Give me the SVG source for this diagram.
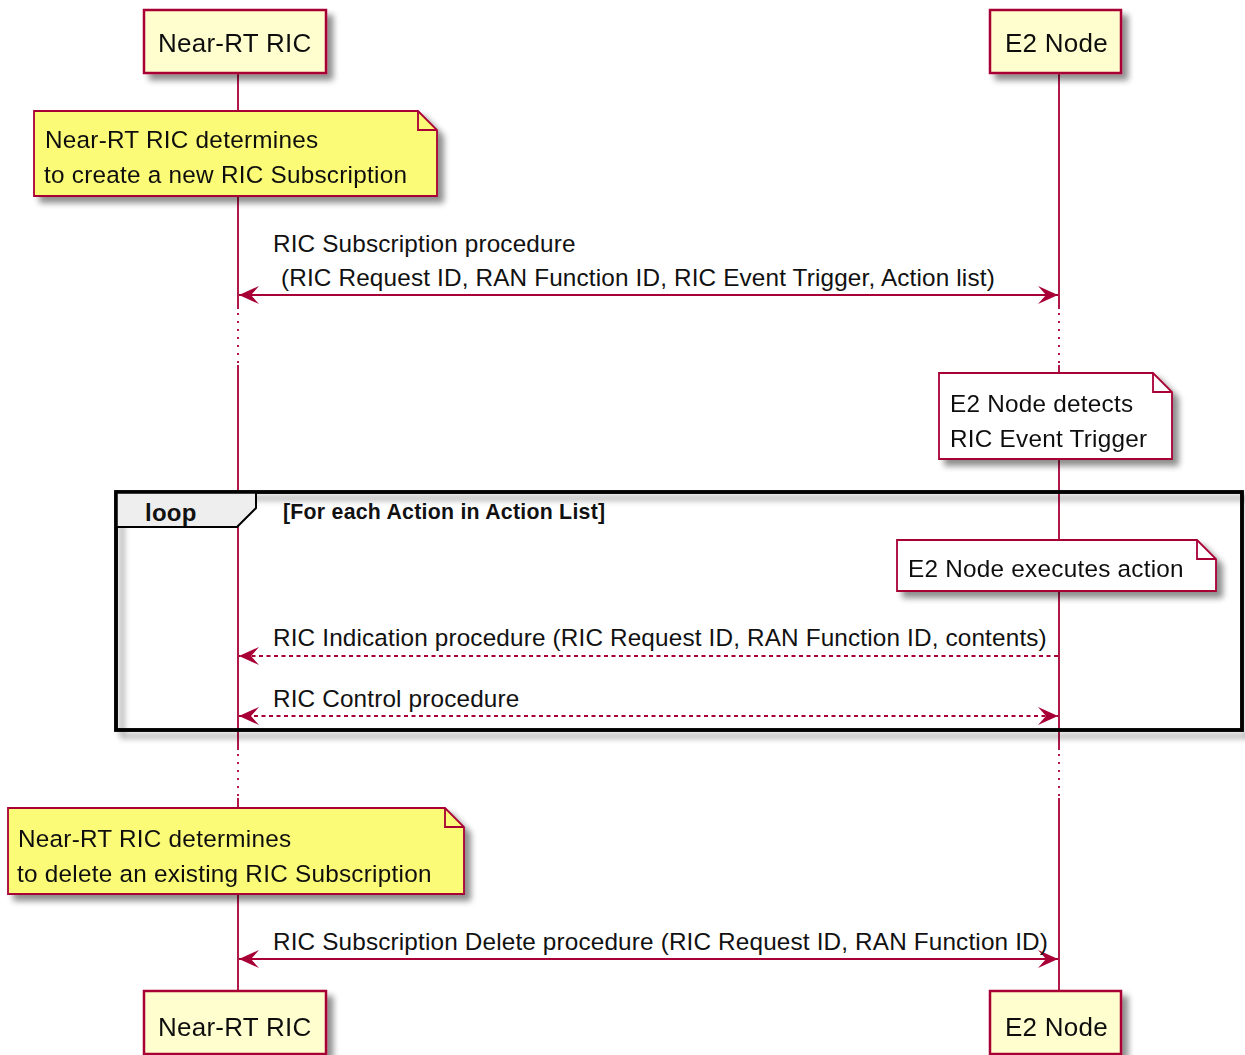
<svg xmlns="http://www.w3.org/2000/svg" width="1245" height="1055" viewBox="0 0 1245 1055">
  <defs>
    <filter id="shadow" x="-10%" y="-20%" width="130%" height="150%">
      <feGaussianBlur in="SourceAlpha" stdDeviation="3"/>
      <feOffset dx="6" dy="6" result="blur"/>
      <feComponentTransfer><feFuncA type="linear" slope="0.45"/></feComponentTransfer>
      <feMerge><feMergeNode/><feMergeNode in="SourceGraphic"/></feMerge>
    </filter>
    <marker id="head" viewBox="0 0 22 20" refX="21" refY="10" markerWidth="22" markerHeight="20" markerUnits="userSpaceOnUse" orient="auto-start-reverse">
      <path d="M21,10 L1,1 L9,10 L1,19 Z" fill="#A80036"/>
    </marker>
    <style>
      text { font-family: "Liberation Sans", Arial, sans-serif; fill: #111; letter-spacing: 0.25px; }
      .part { fill: #FEFECE; stroke: #A80036; stroke-width: 2.5; }
      .ptext { font-size: 26px; }
      .note { fill: #FBFB77; stroke: #A80036; stroke-width: 1.8; }
      .note-w { fill: #FFFFFF; stroke: #A80036; stroke-width: 1.8; }
      .fold { fill: none; stroke: #A80036; stroke-width: 1.8; }
      .ntext { font-size: 24.3px; }
      .life { stroke: #A80036; stroke-width: 1.8; fill: none; }
      .dots { stroke: #A80036; stroke-width: 1.8; stroke-dasharray: 2,6; fill: none; }
      .msg { stroke: #A80036; stroke-width: 1.8; fill: none; }
      .dashed { stroke-dasharray: 4,3.5; }
      .mtext { font-size: 24.3px; letter-spacing: 0.16px; }
    </style>
  </defs>
  <rect width="1245" height="1055" fill="#FFFFFF"/>

  <!-- lifelines -->
  <g id="lifelines">
    <path class="life" d="M238,73 V309 M238,365 V750 M238,798 V991"/>
    <path class="dots" d="M238,313 V363 M238,754 V797"/>
    <path class="life" d="M1059,73 V309 M1059,365 V750 M1059,798 V991"/>
    <path class="dots" d="M1059,313 V363 M1059,754 V797"/>
  </g>

  <!-- loop frame -->
  <g id="loop-frame">
    <rect x="116" y="492" width="1126" height="238" fill="none" stroke="#000" stroke-width="3.5" filter="url(#shadow)"/>
    <path d="M116,492 H256 V508 L237,527 H116 Z" fill="#EEEEEE" stroke="#000" stroke-width="2"/>
    <rect x="116" y="492" width="1126" height="238" fill="none" stroke="#000" stroke-width="3.5"/>
    <text x="145" y="521" font-size="24px" font-weight="bold">loop</text>
    <text x="283" y="519" font-size="21.3px" font-weight="bold">[For each Action in Action List]</text>
  </g>

  <!-- participants -->
  <g id="ric-top" filter="url(#shadow)">
    <rect class="part" x="144" y="10" width="182" height="63"/>
    <text class="ptext" x="158" y="52">Near-RT RIC</text>
  </g>
  <g id="e2-top" filter="url(#shadow)">
    <rect class="part" x="990" y="10" width="131" height="63"/>
    <text class="ptext" x="1005" y="52">E2 Node</text>
  </g>
  <g id="ric-bottom" filter="url(#shadow)">
    <rect class="part" x="144" y="991" width="182" height="63"/>
    <text class="ptext" x="158" y="1036">Near-RT RIC</text>
  </g>
  <g id="e2-bottom" filter="url(#shadow)">
    <rect class="part" x="990" y="991" width="131" height="63"/>
    <text class="ptext" x="1005" y="1036">E2 Node</text>
  </g>

  <!-- notes -->
  <g id="note-create" filter="url(#shadow)">
    <path class="note" d="M34,111 H418 L437,130 V196 H34 Z"/>
    <path class="fold" d="M418,111 V130 H437"/>
    <text class="ntext" x="45" y="148">Near-RT RIC determines</text>
    <text class="ntext" x="44" y="183">to create a new RIC Subscription</text>
  </g>
  <g id="note-detect" filter="url(#shadow)">
    <path class="note-w" d="M939,373 H1153 L1172,392 V459 H939 Z"/>
    <path class="fold" d="M1153,373 V392 H1172"/>
    <text class="ntext" x="950" y="412">E2 Node detects</text>
    <text class="ntext" x="950" y="447">RIC Event Trigger</text>
  </g>
  <g id="note-execute" filter="url(#shadow)">
    <path class="note-w" d="M897,540 H1197 L1216,559 V591 H897 Z"/>
    <path class="fold" d="M1197,540 V559 H1216"/>
    <text class="ntext" x="908" y="577">E2 Node executes action</text>
  </g>
  <g id="note-delete" filter="url(#shadow)">
    <path class="note" d="M8,808 H445 L464,827 V894 H8 Z"/>
    <path class="fold" d="M445,808 V827 H464"/>
    <text class="ntext" x="18" y="847">Near-RT RIC determines</text>
    <text class="ntext" x="17" y="882">to delete an existing RIC Subscription</text>
  </g>

  <!-- messages -->
  <g id="connectors">
    <line class="msg" x1="239" y1="295" x2="1058" y2="295" marker-start="url(#head)" marker-end="url(#head)"/>
    <text class="mtext" x="273" y="252">RIC Subscription procedure</text>
    <text class="mtext" x="281" y="286">(RIC Request ID, RAN Function ID, RIC Event Trigger, Action list)</text>

    <line class="msg dashed" x1="1058" y1="656" x2="239" y2="656" marker-end="url(#head)"/>
    <text class="mtext" x="273" y="646">RIC Indication procedure (RIC Request ID, RAN Function ID, contents)</text>

    <line class="msg dashed" x1="239" y1="716" x2="1058" y2="716" marker-start="url(#head)" marker-end="url(#head)"/>
    <text class="mtext" x="273" y="707">RIC Control procedure</text>

    <line class="msg" x1="239" y1="959" x2="1058" y2="959" marker-start="url(#head)" marker-end="url(#head)"/>
    <text class="mtext" x="273" y="950">RIC Subscription Delete procedure (RIC Request ID, RAN Function ID)</text>
  </g>
</svg>
